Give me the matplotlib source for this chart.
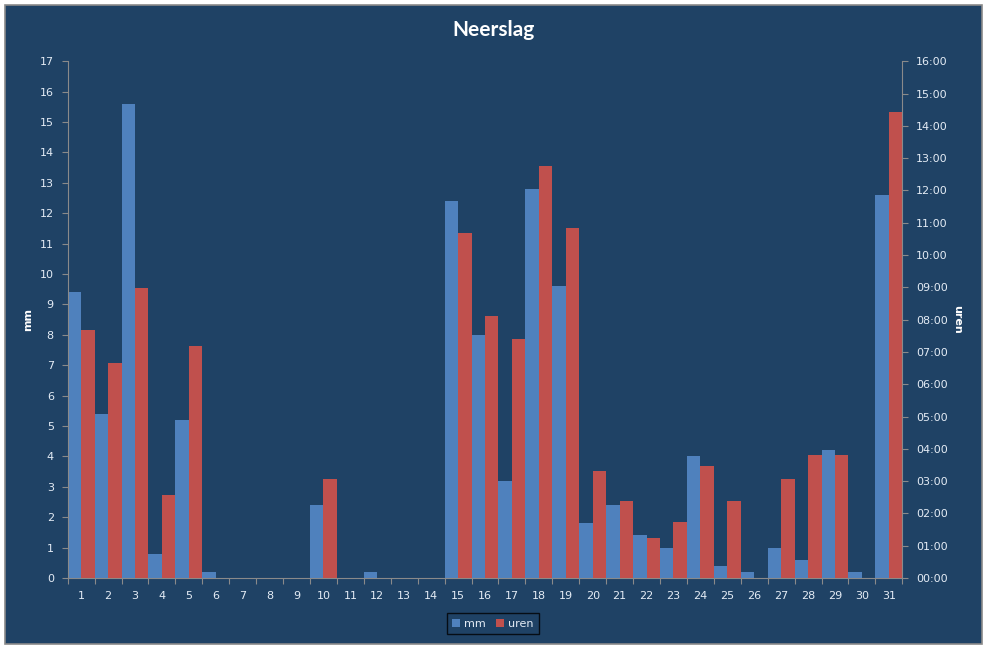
import matplotlib
matplotlib.use("Agg")
import matplotlib.pyplot as plt
from matplotlib.patches import Rectangle, Patch
from matplotlib.ticker import FixedLocator, NullFormatter

# data
days = [str(d) for d in range(1, 32)]
mm = [9.4, 5.4, 15.6, 0.8, 5.2, 0.2, 0, 0, 0, 2.4,
      0, 0.2, 0, 0, 12.4, 8.0, 3.2, 12.8, 9.6, 1.8,
      2.4, 1.4, 1.0, 4.0, 0.4, 0.2, 1.0, 0.6, 4.2, 0.2,
      12.6]
uren = ["07:41", "06:40", "08:59", "02:34", "07:11", "00:00", "00:00", "00:00", "00:00", "03:04",
        "00:00", "00:00", "00:00", "00:00", "10:41", "08:07", "07:24", "12:45", "10:50", "03:19",
        "02:23", "01:15", "01:44", "03:28", "02:23", "00:00", "03:04", "03:49", "03:49", "00:00",
        "14:25"]
hour_ticks = list(range(0, 17))

bg = "#1F4265"
blue = "#4F81BD"
red = "#C0504D"
txt = "#E4ECF5"
axcol = "#8A8A8A"

hours = [int(u[:2]) + int(u[3:]) / 60 for u in uren]
x = list(range(len(days)))

fig = plt.figure(figsize=(9.87, 6.48), dpi=100)
fig.patch.set_facecolor("white")
fig.patches.append(Rectangle((5 / 987, 4 / 648), 977 / 987, 639 / 648,
                             transform=fig.transFigure, facecolor=bg,
                             edgecolor=axcol, linewidth=1.2, zorder=-10))

ax = fig.add_axes([0.0686, 0.108, 0.8456, 0.7974])
ax.patch.set_visible(False)
ax2 = ax.twinx()
ax2.patch.set_visible(False)

ax.bar([i - 0.25 for i in x], mm, width=0.5, color=blue, label="mm")
ax2.bar([i + 0.25 for i in x], hours, width=0.5, color=red, label="uren")

ax.set_xlim(-0.5, len(days) - 0.5)
ax.set_ylim(0, 17)
ax.set_yticks(range(0, 18))
ax2.set_ylim(0, 16)
ax2.set_yticks(hour_ticks)
ax2.set_yticklabels([f"{h:02d}:00" for h in hour_ticks])

# category ticks between bars, labels centered
ax.xaxis.set_major_locator(FixedLocator([i + 0.5 for i in range(-1, len(days))]))
ax.xaxis.set_major_formatter(NullFormatter())
ax.xaxis.set_minor_locator(FixedLocator(x))
ax.set_xticklabels(days, minor=True)
ax.tick_params(axis="x", which="major", length=4, color=axcol)
ax.tick_params(axis="x", which="minor", length=0, pad=9, labelcolor=txt, labelsize=8)

for a in (ax, ax2):
    a.tick_params(axis="y", length=4, color=axcol, labelcolor=txt, labelsize=8, pad=6)
    for s in a.spines.values():
        s.set_visible(False)
ax.spines["left"].set_visible(True)
ax.spines["left"].set_color(axcol)
ax.spines["bottom"].set_visible(True)
ax.spines["bottom"].set_color(axcol)
ax2.spines["right"].set_visible(True)
ax2.spines["right"].set_color(axcol)

ax.set_ylabel("mm", color="white", fontsize=8, fontweight="bold", labelpad=5)
ax2.set_ylabel("uren", color="white", fontsize=8, fontweight="bold", rotation=-90, labelpad=10)

fig.text(0.4995, 1 - 30 / 648, "Neerslag", ha="center", va="center",
         color="white", fontsize=15, fontweight="bold", family="Lato")

handles = [Patch(facecolor=blue, label="mm"), Patch(facecolor=red, label="uren")]
leg = fig.legend(handles=handles, loc="center", bbox_to_anchor=(0.4995, 0.0378), ncol=2,
                 frameon=True, fontsize=8, handlelength=0.7, handleheight=0.7,
                 handletextpad=0.4, columnspacing=0.9, borderpad=0.5, fancybox=False)
leg.get_frame().set_facecolor("none")
leg.get_frame().set_edgecolor("black")
for t in leg.get_texts():
    t.set_color(txt)

fig.savefig("out.png", dpi=100, facecolor=fig.get_facecolor())
